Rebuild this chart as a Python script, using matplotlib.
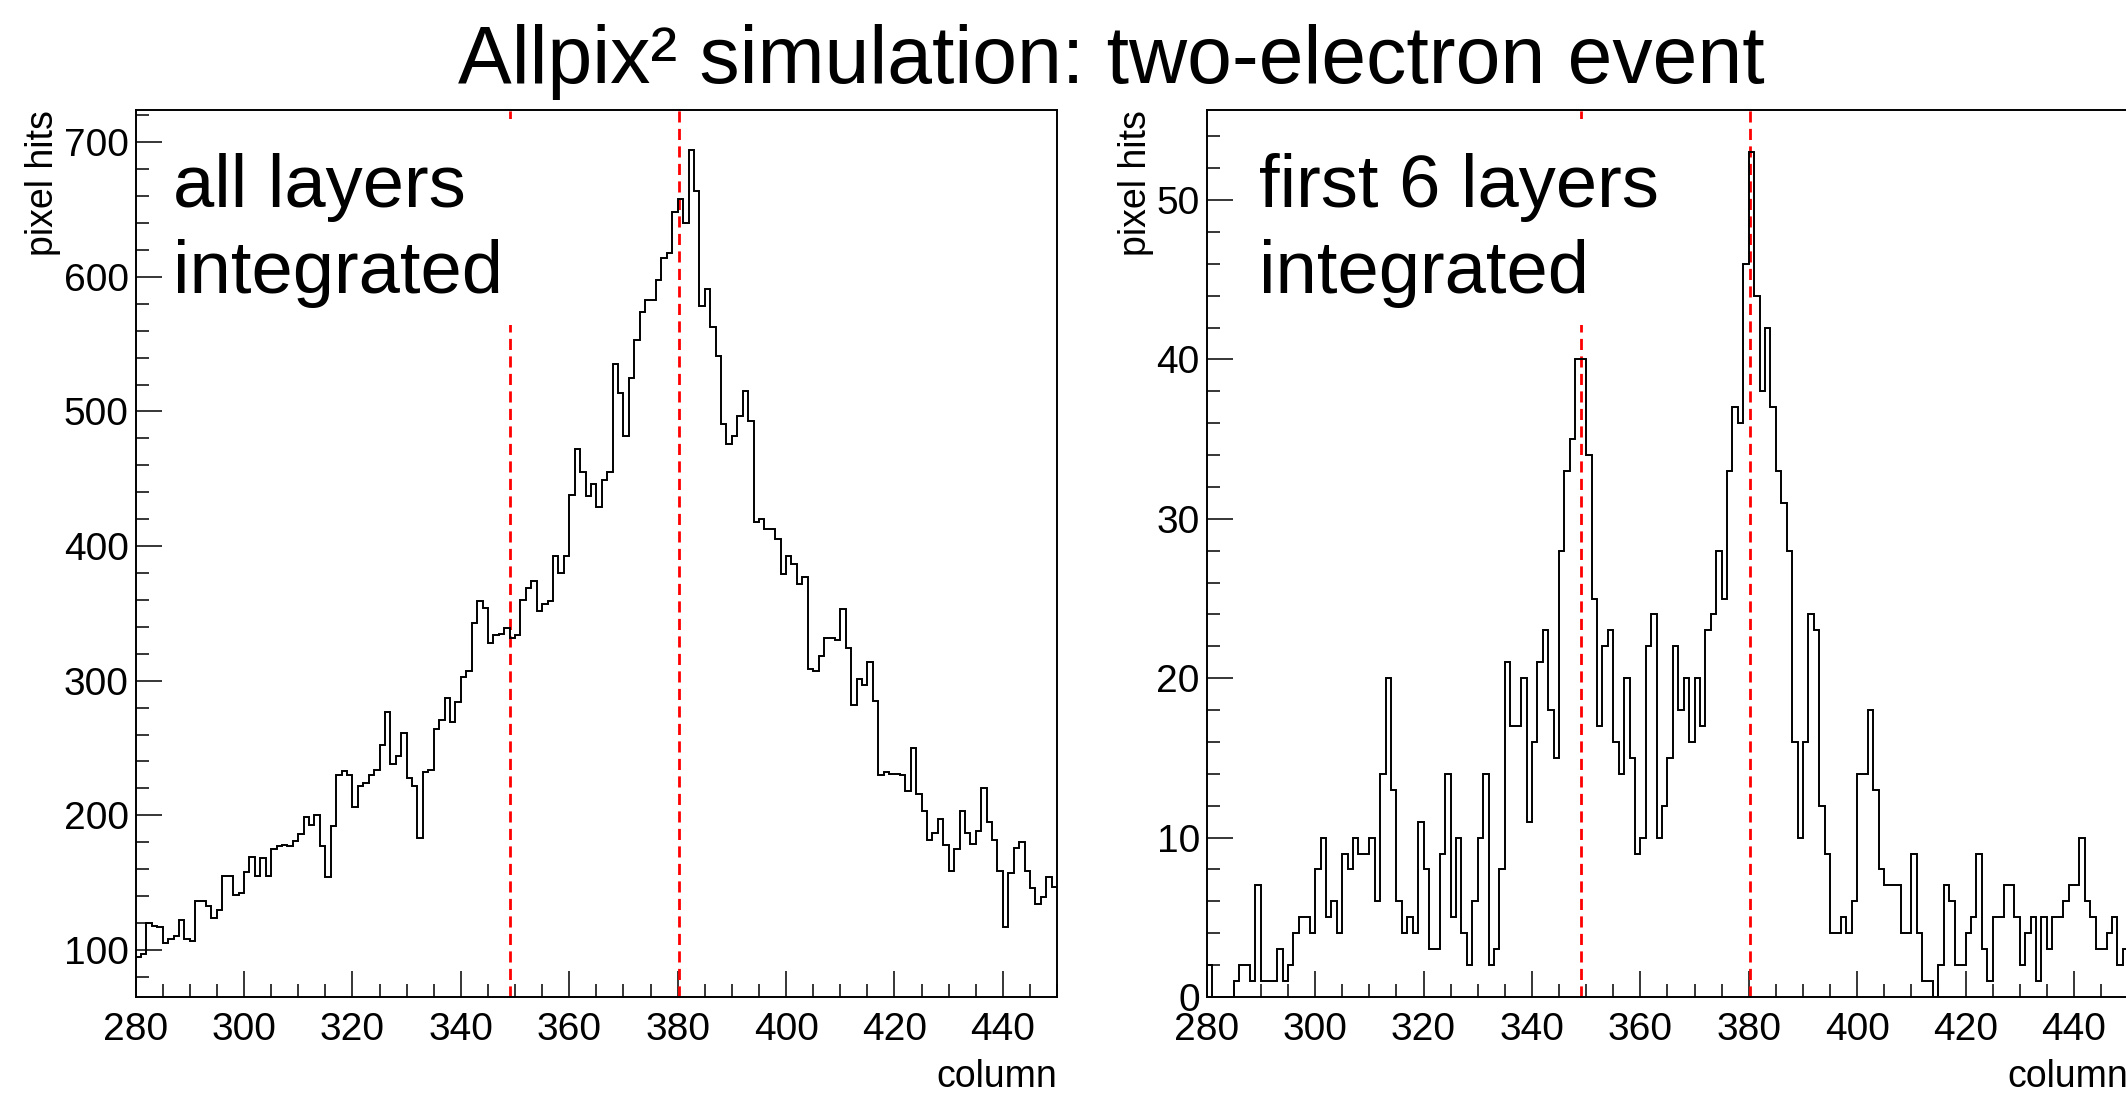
import numpy as np
import matplotlib
matplotlib.use("Agg")
import matplotlib.pyplot as plt
from matplotlib.ticker import MultipleLocator
from matplotlib.patches import Rectangle

plt.rcParams['font.family'] = ['Liberation Sans', 'DejaVu Sans']

# ---------------- data ----------------
col_start = 280
col_stop = 450

all_layers = [
    95, 97, 120, 118, 117, 105, 108, 110, 122, 108,
    107, 136, 136, 133, 124, 130, 155, 155, 141, 142,
    158, 169, 155, 168, 155, 175, 177, 178, 177, 181,
    186, 199, 193, 200, 177, 154, 192, 230, 233, 230,
    206, 222, 224, 230, 234, 252, 277, 238, 244, 261,
    228, 222, 183, 232, 234, 264, 271, 287, 269, 284,
    303, 307, 343, 359, 354, 328, 334, 335, 339, 332,
    334, 360, 369, 374, 352, 357, 359, 393, 380, 393,
    438, 472, 455, 437, 446, 429, 449, 455, 535, 514,
    482, 525, 553, 574, 583, 583, 598, 614, 618, 648,
    658, 640, 694, 664, 578, 591, 563, 541, 491, 476,
    482, 497, 515, 493, 418, 420, 413, 413, 405, 379,
    393, 387, 372, 377, 309, 307, 318, 332, 332, 330,
    353, 324, 282, 301, 297, 314, 285, 230, 232, 231,
    231, 230, 218, 250, 216, 203, 182, 187, 197, 178,
    159, 175, 203, 187, 179, 188, 220, 195, 182, 159,
    117, 157, 176, 180, 159, 146, 134, 139, 154, 147,
]

first6_layers = [
    2, 0, 0, 0, 0, 1, 2, 2, 1, 7,
    1, 1, 1, 3, 1, 2, 4, 5, 5, 4,
    8, 10, 5, 6, 4, 9, 8, 10, 9, 9,
    10, 6, 14, 20, 13, 6, 4, 5, 4, 11,
    8, 3, 3, 9, 14, 5, 10, 4, 2, 6,
    10, 14, 2, 3, 8, 21, 17, 17, 20, 11,
    16, 21, 23, 18, 15, 28, 33, 35, 40, 40,
    34, 25, 17, 22, 23, 16, 14, 20, 15, 9,
    10, 22, 24, 10, 12, 15, 22, 18, 20, 16,
    20, 17, 23, 24, 28, 25, 33, 37, 36, 46,
    53, 44, 38, 42, 37, 33, 31, 28, 16, 10,
    16, 24, 23, 12, 9, 4, 4, 5, 4, 6,
    14, 14, 18, 13, 8, 7, 7, 7, 4, 4,
    9, 4, 1, 1, 0, 2, 7, 6, 2, 2,
    4, 5, 9, 3, 1, 5, 5, 7, 7, 5,
    2, 4, 5, 1, 5, 3, 5, 5, 6, 7,
    7, 10, 6, 5, 3, 3, 4, 5, 2, 3,
]

red_lines = [349.1, 380.3]
panel_texts = [("all layers", "integrated"), ("first 6 layers", "integrated")]
title = "Allpix\u00b2 simulation: two-electron event"
xlabel = "column"
ylabel = "pixel hits"

# ---------------- figure ----------------
W, H = 2126, 1096
DPI = 100
fig = plt.figure(figsize=(W / DPI, H / DPI), dpi=DPI)

ax_w = 921.5 / W
ax_h = 887 / H
ax_b = 99 / H
ax_left = fig.add_axes([135.6 / W, ax_b, ax_w, ax_h])
ax_right = fig.add_axes([1206.7 / W, ax_b, ax_w, ax_h])

edges = np.arange(col_start, col_stop + 1)


def style_axes(ax, values, major, minor, text_lines, text_x):
    vals = np.asarray(values, dtype=float)
    ax.stairs(vals, edges, baseline=None, color='black', lw=1.4, zorder=4)
    vmin, vmax = vals.min(), vals.max()
    margin = 0.05 * (vmax - vmin)
    lo = vmin - margin
    if vmin >= 0 and lo < 0:
        lo = 0
    ax.set_ylim(lo, vmax + margin)
    ax.set_xlim(col_start, col_stop)

    for xv in red_lines:
        ax.axvline(xv, color='red', lw=2.0, ls=(0, (4, 2.3)), zorder=2)

    ax.add_patch(Rectangle((0.03, 0.758), 0.42, 0.232, transform=ax.transAxes,
                           facecolor='white', edgecolor='none', zorder=3))
    ax.text(text_x, 0.891, text_lines[0], transform=ax.transAxes,
            fontsize=53.5, ha='left', va='baseline', zorder=5)
    ax.text(text_x, 0.794, text_lines[1], transform=ax.transAxes,
            fontsize=53.5, ha='left', va='baseline', zorder=5)

    ax.xaxis.set_major_locator(MultipleLocator(20))
    ax.xaxis.set_minor_locator(MultipleLocator(5))
    ax.yaxis.set_major_locator(MultipleLocator(major))
    ax.yaxis.set_minor_locator(MultipleLocator(minor))
    ax.tick_params(which='both', direction='in', top=False, right=False,
                   labelsize=28, width=1.1)
    ax.tick_params(which='major', length=19)
    ax.tick_params(which='minor', length=9.5)
    ax.tick_params(axis='x', which='major', pad=11)
    ax.tick_params(axis='y', which='major', pad=5)
    for sp in ax.spines.values():
        sp.set_linewidth(1.4)

    ax.set_xlabel(xlabel, fontsize=27, loc='right', labelpad=8)
    ax.set_ylabel(ylabel, fontsize=27, loc='top', labelpad=2)


style_axes(ax_left, all_layers, 100, 20, panel_texts[0], 0.041)
style_axes(ax_right, first6_layers, 10, 2, panel_texts[1], 0.057)

fig.text(0.5226, 1 - 83 / H, title, fontsize=58, ha='center', va='baseline')

fig.savefig("out.png", dpi=DPI)
